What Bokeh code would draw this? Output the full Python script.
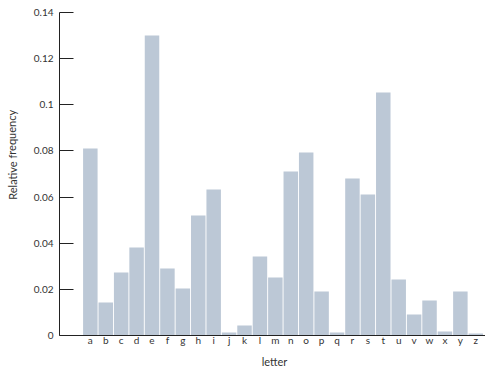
from bokeh.plotting import figure
from bokeh.layouts import row, column
from bokeh.models import ColumnDataSource, FixedTicker, Range1d
from bokeh.core.properties import value
from bokeh.embed import file_html
from bokeh.resources import INLINE

letters = list("abcdefghijklmnopqrstuvwxyz")
frequency = [0.0811, 0.0143, 0.0273, 0.0381, 0.1300, 0.0290, 0.0204, 0.0520,
             0.0633, 0.0013, 0.0043, 0.0342, 0.0251, 0.0711, 0.0793, 0.0191,
             0.0013, 0.0680, 0.0611, 0.1053, 0.0243, 0.0091, 0.0152, 0.0017,
             0.0191, 0.0009]
y_ticks = [0, 0.02, 0.04, 0.06, 0.08, 0.1, 0.12, 0.14]
y_tick_labels = ["0", "0.02", "0.04", "0.06", "0.08", "0.1", "0.12", "0.14"]
x_title = "letter"
y_title = "Relative frequency"

FONT = "Lato"
TXT = "#333333"

idx = list(range(len(letters)))
src = ColumnDataSource(data=dict(x=idx, top=frequency, letter=letters))

# main chart
p = figure(width=465, height=354, output_backend="svg", toolbar_location=None,
           x_range=Range1d(-2.0, 25.63), y_range=Range1d(0, 0.14),
           min_border_left=39, min_border_right=0, min_border_top=12,
           min_border_bottom=19)
p.outline_line_color = None
p.grid.visible = False
p.background_fill_color = "white"

p.vbar(x="x", top="top", bottom=0, width=0.94, source=src,
       fill_color="#bcc8d6", line_color=None)

p.xaxis.ticker = FixedTicker(ticks=idx)
p.xaxis.major_label_overrides = {i: l for i, l in zip(idx, letters)}
p.xaxis.major_tick_line_color = None
p.xaxis.minor_tick_line_color = None
p.xaxis.major_tick_out = 0
p.xaxis.major_tick_in = 0
p.xaxis.minor_tick_out = 0
p.xaxis.axis_line_color = "#222222"
p.xaxis.axis_line_width = 1.2
p.xaxis.major_label_standoff = -2
p.xaxis.major_label_text_font = FONT
p.xaxis.major_label_text_font_size = "10px"
p.xaxis.major_label_text_color = TXT

p.yaxis.ticker = FixedTicker(ticks=y_ticks)
p.yaxis.major_label_overrides = {t: l for t, l in zip(y_ticks, y_tick_labels)}
p.yaxis.major_tick_in = 14
p.yaxis.major_tick_out = 0
p.yaxis.minor_tick_out = 0
p.yaxis.major_tick_line_color = "#222222"
p.yaxis.minor_tick_line_color = None
p.yaxis.axis_line_color = "#222222"
p.yaxis.major_label_standoff = 6
p.yaxis.major_label_text_font = FONT
p.yaxis.major_label_text_font_size = "10px"
p.yaxis.major_label_text_color = TXT

# y title strip (left)
yfig = figure(width=20, height=354, output_backend="svg", toolbar_location=None,
              x_range=Range1d(0, 20), y_range=Range1d(0, 354),
              x_axis_location=None, y_axis_location=None,
              min_border=0, min_border_left=0, min_border_right=0,
              min_border_top=0, min_border_bottom=0)
yfig.outline_line_color = None
yfig.grid.visible = False
yfig.text(x=[11.5], y=[198], text=[y_title], angle=1.5708,
          text_align="center", text_baseline="middle",
          text_font=value(FONT), text_font_size="11px", text_color=TXT)

# x title strip (bottom)
xfig = figure(width=485, height=14, output_backend="svg", toolbar_location=None,
              x_range=Range1d(0, 485), y_range=Range1d(0, 14),
              x_axis_location=None, y_axis_location=None,
              min_border=0, min_border_left=0, min_border_right=0,
              min_border_top=0, min_border_bottom=0)
xfig.outline_line_color = None
xfig.grid.visible = False
xfig.text(x=[274], y=[7], text=[x_title],
          text_align="center", text_baseline="middle",
          text_font=value(FONT), text_font_size="11px", text_color=TXT)

layout = column(row(yfig, p, spacing=0), xfig, spacing=0)

open("out.html", "w").write(file_html(layout, INLINE))
